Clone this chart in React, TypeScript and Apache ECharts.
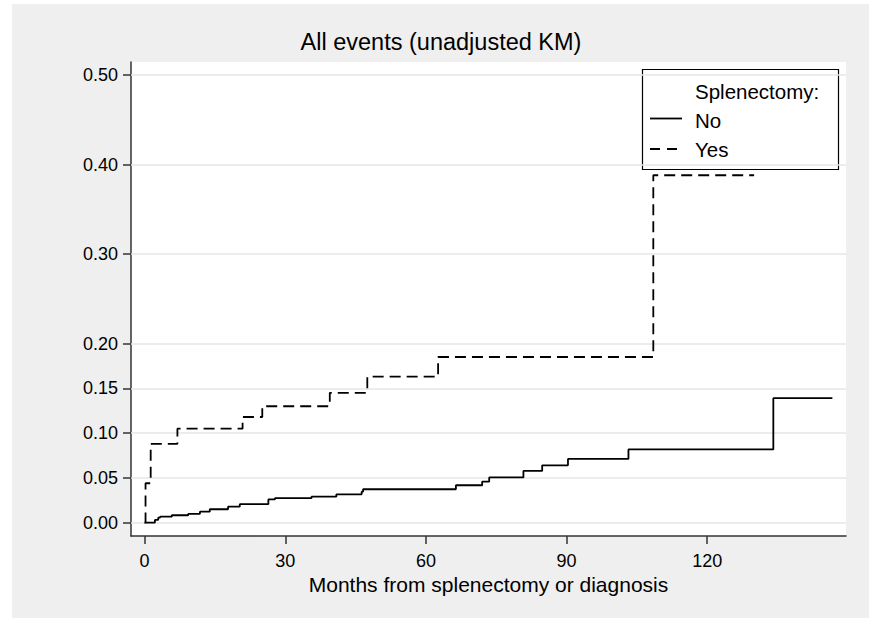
import React, { useEffect, useRef } from 'react';
import * as echarts from 'echarts';

const xTicks = [0, 30, 60, 90, 120];
const yTicks = [0, 0.05, 0.1, 0.15, 0.2, 0.3, 0.4, 0.5];

const noMonths = [0, 2.2, 2.9, 3.3, 5.8, 9.3, 11.8, 13.9, 17.8, 20.3, 26.4, 27.8, 35.6, 40.9, 46.3, 46.6, 66.4, 72.0, 73.5, 80.8, 84.8, 90.3, 103.2, 134.1, 146.7];
const noRisk = [0, 0.003, 0.0056, 0.0067, 0.0083, 0.0097, 0.0123, 0.015, 0.0179, 0.0206, 0.026, 0.0273, 0.029, 0.0317, 0.0346, 0.0373, 0.0418, 0.0458, 0.0505, 0.0578, 0.064, 0.0712, 0.0818, 0.139, 0.139];

const yesMonths = [0, 0.2, 1.3, 7.0, 20.9, 25.1, 39.5, 47.5, 62.6, 108.5, 130.0];
const yesRisk = [0, 0.044, 0.088, 0.105, 0.118, 0.13, 0.145, 0.163, 0.185, 0.388, 0.388];

const FONT = '"Liberation Sans", Arial, sans-serif';

export default function App() {
  const ref = useRef<HTMLDivElement>(null);

  useEffect(() => {
    if (!ref.current) return;
    const chart = echarts.init(ref.current, null, { renderer: 'svg' });
    const noData = noMonths.map((m, i) => [m, noRisk[i]]);
    const yesData = yesMonths.map((m, i) => [m, yesRisk[i]]);

    chart.setOption({
      animation: false,
      textStyle: { fontFamily: FONT },
      title: {
        text: 'All events (unadjusted KM)',
        left: 436,
        top: 25,
        textAlign: 'center',
        textStyle: { fontFamily: FONT, fontSize: 23.5, fontWeight: 'normal', color: '#000' },
      },
      grid: {
        left: 131,
        top: 62,
        right: 23,
        bottom: 82,
        show: true,
        backgroundColor: '#ffffff',
        borderWidth: 0,
      },
      xAxis: {
        type: 'value',
        min: -2.9,
        max: 149.6,
        name: 'Months from splenectomy or diagnosis',
        nameLocation: 'middle',
        nameGap: 33,
        nameTextStyle: { fontFamily: FONT, fontSize: 21, color: '#000' },
        axisLine: { show: true, onZero: false, lineStyle: { color: '#333', width: 1.5 } },
        axisTick: { show: true, length: 8, customValues: xTicks, lineStyle: { color: '#333', width: 1.5 } },
        axisLabel: { customValues: xTicks, margin: 15.5, fontFamily: FONT, fontSize: 18, color: '#000' },
        splitLine: { show: false },
      },
      yAxis: {
        type: 'value',
        min: -0.0149,
        max: 0.5145,
        axisLine: { show: true, onZero: false, lineStyle: { color: '#333', width: 1.5 } },
        axisTick: { show: true, length: 8, customValues: yTicks, lineStyle: { color: '#333', width: 1.5 } },
        axisLabel: {
          customValues: yTicks,
          margin: 13,
          fontFamily: FONT,
          fontSize: 18,
          color: '#000',
          formatter: (v: number) => v.toFixed(2),
        },
        splitLine: { show: false },
      },
      series: [
        {
          name: 'No',
          type: 'line',
          step: 'end',
          data: noData,
          showSymbol: false,
          symbol: 'none',
          lineStyle: { color: '#000', width: 1.8, type: 'solid' },
          z: 3,
          markLine: {
            silent: true,
            symbol: ['none', 'none'],
            label: { show: false },
            lineStyle: { color: '#e6e6e6', width: 1.6, type: 'solid' },
            data: yTicks.map((v) => ({ yAxis: v })),
            z: 1,
          },
        },
        {
          name: 'Yes',
          type: 'line',
          step: 'end',
          data: yesData,
          showSymbol: false,
          symbol: 'none',
          lineStyle: { color: '#000', width: 1.8, type: [11, 6] },
          z: 3,
        },
      ],
      graphic: [
        {
          type: 'group',
          z: 100,
          children: [
            {
              type: 'rect',
              shape: { x: 642.5, y: 69.5, width: 196, height: 100 },
              style: { fill: '#ffffff', stroke: '#000', lineWidth: 1.2 },
            },
            {
              type: 'text',
              x: 695,
              y: 91,
              style: { text: 'Splenectomy:', fontFamily: FONT, fontSize: 20.5, fill: '#000', verticalAlign: 'middle', align: 'left' },
            },
            {
              type: 'line',
              shape: { x1: 650, y1: 118.5, x2: 682, y2: 118.5 },
              style: { stroke: '#000', lineWidth: 1.8 },
            },
            {
              type: 'text',
              x: 695,
              y: 120,
              style: { text: 'No', fontFamily: FONT, fontSize: 20.5, fill: '#000', verticalAlign: 'middle', align: 'left' },
            },
            {
              type: 'line',
              shape: { x1: 650, y1: 149, x2: 680, y2: 149 },
              style: { stroke: '#000', lineWidth: 1.8, lineDash: [10, 7] },
            },
            {
              type: 'text',
              x: 695,
              y: 149,
              style: { text: 'Yes', fontFamily: FONT, fontSize: 20.5, fill: '#000', verticalAlign: 'middle', align: 'left' },
            },
          ],
        },
      ],
    });

    return () => {
      chart.dispose();
    };
  }, []);

  return (
    <div style={{ position: 'fixed', left: 0, top: 0, width: 869, height: 618, background: '#ffffff', overflow: 'hidden' }}>
      <div style={{ position: 'absolute', left: 12, top: 4, right: 0, bottom: 0, background: '#efefef' }} />
      <div ref={ref} style={{ position: 'absolute', left: 0, top: 0, width: 869, height: 618 }} />
    </div>
  );
}
